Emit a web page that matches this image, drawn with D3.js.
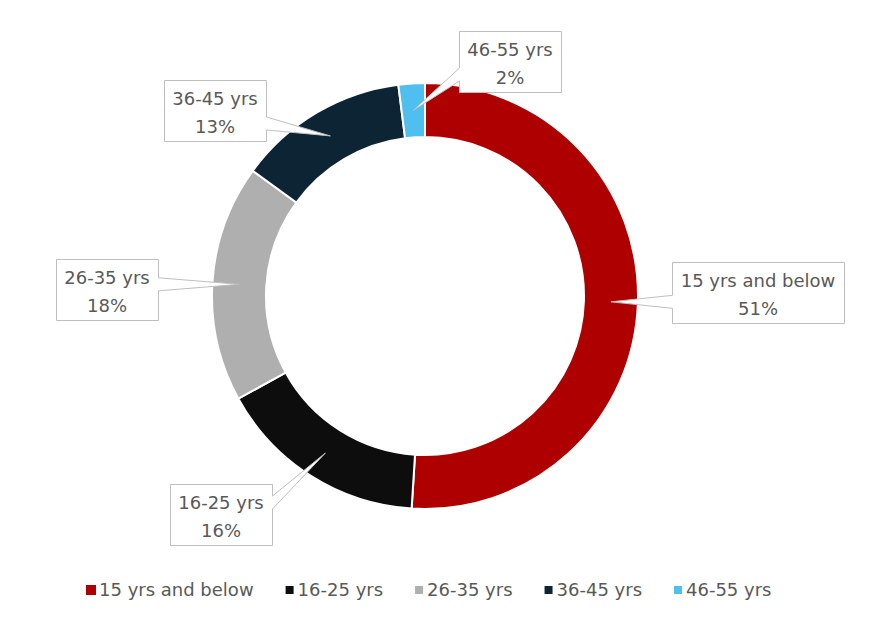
<!DOCTYPE html>
<html>
<head>
<meta charset="utf-8">
<script src="https://cdn.jsdelivr.net/npm/d3@7"></script>
<style>
  body { margin: 0; background: #fff; }
  text { font-family: "DejaVu Sans", sans-serif; fill: #595959; }
</style>
</head>
<body>
<svg id="chart"></svg>
<script>
// data
var categories = ["15 yrs and below", "16-25 yrs", "26-35 yrs", "36-45 yrs", "46-55 yrs"];
var shares = [51, 16, 18, 13, 2];
var colors = ["#AF0000", "#0D0D0D", "#AFAFAF", "#0D2435", "#4FBFEF"];

// where each callout box sits, relative to the donut centre
var labelOffsets = [[333, -4], [-204, 218], [-318, -7], [-210, -186], [85, -235]];

var size = { width: 882, height: 622 };
var donut = { cx: 425, cy: 296, outer: 213, inner: 159 };

var svg = d3.select("#chart")
    .attr("width", size.width)
    .attr("height", size.height);

var pie = d3.pie().sort(null).value(d => d);
var arcs = pie(shares);

var arc = d3.arc()
    .innerRadius(donut.inner)
    .outerRadius(donut.outer);

var g = svg.append("g")
    .attr("transform", "translate(" + donut.cx + "," + donut.cy + ")");

// ring slices
g.selectAll("path.slice")
    .data(arcs)
    .enter()
    .append("path")
    .attr("class", "slice")
    .attr("d", arc)
    .attr("fill", (d, i) => colors[i])
    .attr("stroke", "#fff")
    .attr("stroke-width", 2);

// callouts
var lineGap = 28, boxH = 61, padX = 8.5;

arcs.forEach(function(d, i) {
    var tip = arc.centroid(d);
    var c = labelOffsets[i];
    var lab = g.append("g");

    var shape = lab.append("path")
        .attr("fill", "#fff")
        .attr("stroke", "#BFBFBF")
        .attr("stroke-width", 1);

    var t1 = lab.append("text")
        .attr("x", c[0])
        .attr("text-anchor", "middle")
        .style("font-size", "18px")
        .text(categories[i]);
    var t2 = lab.append("text")
        .attr("x", c[0])
        .attr("text-anchor", "middle")
        .style("font-size", "18px")
        .text(d3.format(".0%")(d.data / d3.sum(shares)));

    var w = Math.max(t1.node().getComputedTextLength(), t2.node().getComputedTextLength()) + padX * 2;
    var left = Math.round(c[0] - w / 2) + 0.5, right = Math.round(c[0] + w / 2) + 0.5;
    var top = Math.round(c[1] - boxH / 2) + 0.5, bottom = top + boxH;

    t1.attr("y", top + 24);
    t2.attr("y", top + 24 + lineGap);

    // wedge base sits on the edge that faces the tip
    var mid = Math.max(top + 18, Math.min(bottom - 18, tip[1]));
    var b1 = mid - 6.5, b2 = mid + 6.5;
    var p = d3.path();
    if (tip[0] < left) {
        p.moveTo(left, top); p.lineTo(right, top); p.lineTo(right, bottom);
        p.lineTo(left, bottom); p.lineTo(left, b2); p.lineTo(tip[0], tip[1]);
        p.lineTo(left, b1); p.closePath();
    } else {
        p.moveTo(left, top); p.lineTo(right, top); p.lineTo(right, b1);
        p.lineTo(tip[0], tip[1]); p.lineTo(right, b2); p.lineTo(right, bottom);
        p.lineTo(left, bottom); p.closePath();
    }
    shape.attr("d", p.toString());
});

// legend
var legend = svg.append("g");
var items = legend.selectAll("g.item")
    .data(categories)
    .enter()
    .append("g")
    .attr("class", "item");

items.append("rect")
    .attr("width", 10)
    .attr("height", 10)
    .attr("y", 585)
    .attr("fill", (d, i) => colors[i])
    .attr("stroke", "#fff")
    .attr("stroke-width", (d, i) => i === 0 ? 0 : 2);

items.append("text")
    .attr("x", 13)
    .attr("y", 596)
    .style("font-size", "18px")
    .text(d => d);

var xPos = 0;
items.each(function() {
    var item = d3.select(this);
    item.attr("transform", "translate(" + xPos + ",0)");
    xPos += 13 + item.select("text").node().getComputedTextLength() + 31;
});
var legendW = xPos - 31;
legend.attr("transform", "translate(" + Math.round(429 - legendW / 2) + ",0)");
</script>
</body>
</html>
